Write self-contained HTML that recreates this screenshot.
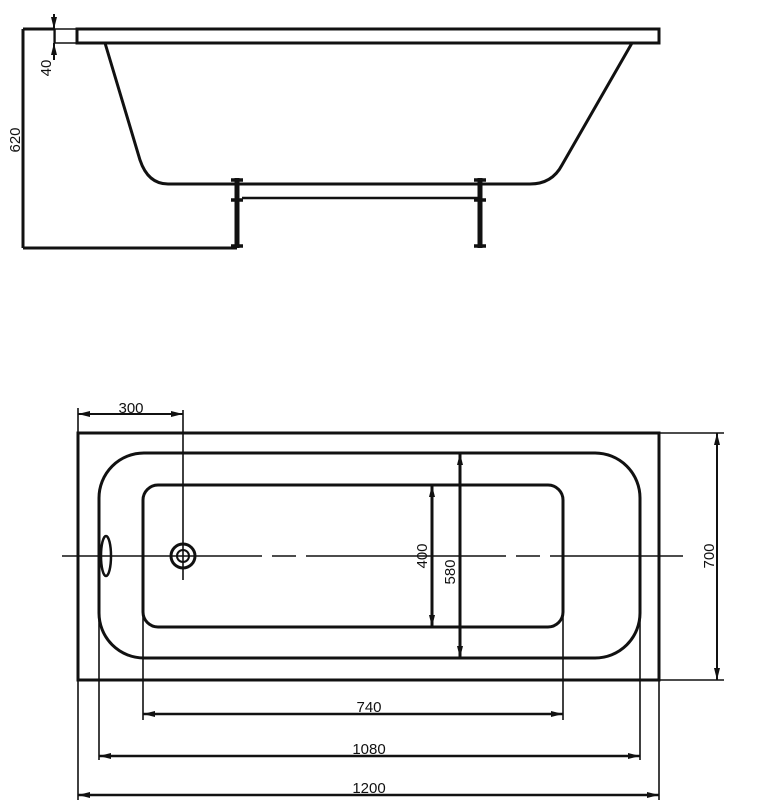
<!DOCTYPE html>
<html><head><meta charset="utf-8"><style>
html,body{margin:0;padding:0;background:#fff;width:765px;height:800px;overflow:hidden}
text{font-family:"Liberation Sans",sans-serif;font-size:15px;fill:#111}
</style></head><body>
<svg width="765" height="800" viewBox="0 0 765 800" xmlns="http://www.w3.org/2000/svg">
<defs>
<marker id="a" viewBox="0 0 12 6" refX="12" refY="3" markerWidth="12" markerHeight="6" orient="auto-start-reverse" markerUnits="userSpaceOnUse"><path d="M0,0 L12,3 L0,6 z" fill="#111"/></marker>
</defs>
<g fill="none" stroke="#111" stroke-width="3">
<!-- side view -->
<rect x="77" y="29" width="582" height="14"/>
<rect x="55" y="29" width="22" height="14" stroke-width="1.5"/>
<path d="M105,43 L140,160 Q148,184 168,184 L530,184 Q552,184 562,165 L632,43"/>
<line x1="242" y1="198" x2="478" y2="198" stroke-width="2.5"/>
<line x1="237" y1="178" x2="237" y2="248" stroke-width="5"/>
<line x1="480" y1="178" x2="480" y2="248" stroke-width="5"/>
<line x1="231" y1="180" x2="243" y2="180" stroke-width="3.5"/>
<line x1="231" y1="200" x2="243" y2="200" stroke-width="3.5"/>
<line x1="231" y1="246" x2="243" y2="246" stroke-width="3.5"/>
<line x1="474" y1="180" x2="486" y2="180" stroke-width="3.5"/>
<line x1="474" y1="200" x2="486" y2="200" stroke-width="3.5"/>
<line x1="474" y1="246" x2="486" y2="246" stroke-width="3.5"/>
<line x1="23" y1="29" x2="23" y2="248" stroke-width="3"/>
<line x1="23" y1="29" x2="55" y2="29" stroke-width="3"/>
<line x1="23" y1="248" x2="237" y2="248" stroke-width="3"/>
<line x1="54" y1="14" x2="54" y2="60" stroke-width="1.2"/>
<!-- plan view -->
<rect x="78" y="433" width="581" height="247"/>
<rect x="99" y="453" width="541" height="205" rx="45"/>
<rect x="143" y="485" width="420" height="142" rx="15"/>
<circle cx="183" cy="556" r="12"/>
<circle cx="183" cy="556" r="6" stroke-width="2"/>
<ellipse cx="106" cy="556" rx="5" ry="20" stroke-width="2.5"/>
</g>
<g fill="none" stroke="#111" stroke-width="1.6">
<line x1="62" y1="556" x2="683" y2="556" stroke-dasharray="200,10,24,10"/>
<line x1="183" y1="410" x2="183" y2="580"/>
<line x1="78" y1="408" x2="78" y2="800"/>
<line x1="659" y1="433" x2="724" y2="433"/>
<line x1="659" y1="680" x2="724" y2="680"/>
<line x1="659" y1="680" x2="659" y2="800"/>
<line x1="99" y1="600" x2="99" y2="760"/>
<line x1="640" y1="600" x2="640" y2="760"/>
<line x1="143" y1="600" x2="143" y2="720"/>
<line x1="563" y1="600" x2="563" y2="720"/>
</g>
<g stroke="#111" stroke-width="2" fill="none">
<line x1="78" y1="414" x2="183" y2="414" marker-start="url(#a)" marker-end="url(#a)"/>
<line x1="717" y1="433" x2="717" y2="680" marker-start="url(#a)" marker-end="url(#a)"/>
<line x1="460" y1="453" x2="460" y2="658" stroke-width="3" marker-start="url(#a)" marker-end="url(#a)"/>
<line x1="432" y1="485" x2="432" y2="627" stroke-width="3" marker-start="url(#a)" marker-end="url(#a)"/>
<line x1="143" y1="714" x2="563" y2="714" stroke-width="2.5" marker-start="url(#a)" marker-end="url(#a)"/>
<line x1="99" y1="756" x2="640" y2="756" stroke-width="2.5" marker-start="url(#a)" marker-end="url(#a)"/>
<line x1="78" y1="795" x2="659" y2="795" stroke-width="2.5" marker-start="url(#a)" marker-end="url(#a)"/>
<line x1="54" y1="14" x2="54" y2="29" marker-end="url(#a)"/>
<line x1="54" y1="60" x2="54" y2="43" marker-end="url(#a)"/>
</g>
<text x="131" y="413" text-anchor="middle">300</text>
<text x="369" y="712" text-anchor="middle">740</text>
<text x="369" y="754" text-anchor="middle">1080</text>
<text x="369" y="793" text-anchor="middle">1200</text>
<text transform="translate(714,556) rotate(-90)" text-anchor="middle">700</text>
<text transform="translate(455,572) rotate(-90)" text-anchor="middle">580</text>
<text transform="translate(427,556) rotate(-90)" text-anchor="middle">400</text>
<text transform="translate(20,140) rotate(-90)" text-anchor="middle">620</text>
<text transform="translate(51,68) rotate(-90)" text-anchor="middle">40</text>
</svg>
</body></html>
